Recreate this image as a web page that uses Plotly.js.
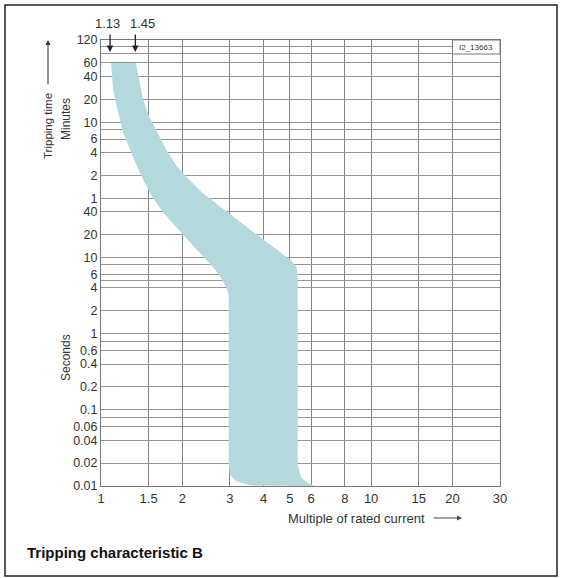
<!DOCTYPE html>
<html>
<head>
<meta charset="utf-8">
<script src="https://cdn.plot.ly/plotly-3.0.1.min.js"></script>
<style>
  html, body { margin: 0; padding: 0; background: #fff; }
  #chart { width: 563px; height: 578px; }
</style>
</head>
<body>
<div id="chart"></div>
<script>
// ---- data ----
const xTickVals = [1, 1.5, 2, 3, 4, 5, 6, 8, 10, 15, 20, 30];
const xTickText = ['1', '1.5', '2', '3', '4', '5', '6', '8', '10', '15', '20', '30'];

const minuteTicks = [120, 60, 40, 20, 10, 6, 4, 2, 1];          // minutes
const secondTicks = [40, 20, 10, 6, 4, 2, 1, 0.6, 0.4, 0.2, 0.1, 0.06, 0.04, 0.02, 0.01]; // seconds
const extraGridMinutes = [100, 80, 8];
const extraGridSeconds = [8, 5, 0.8, 0.08];

// lower (left) limit of the tripping band: multiple of In, time in seconds (top to bottom)
const lowerX = [1.09, 1.108, 1.127, 1.166, 1.206, 1.28, 1.359, 1.443, 1.545, 1.697, 1.928, 2.19, 2.427, 2.644, 2.81, 2.904, 2.97, 2.97, 3.0, 3.16, 3.56];
const lowerT = [3600, 1626, 1200, 716, 442, 264, 157, 100, 63.5, 39, 23.3, 14.4, 9.7, 6.95, 5.1, 4.15, 3.26, 0.019, 0.014, 0.0116, 0.0102];
// upper (right) limit of the tripping band (bottom to top)
const upperX = [6.2, 5.8, 5.5, 5.35, 5.35, 5.3, 5.1, 4.68, 4.12, 3.56, 3.08, 2.689, 2.366, 2.118, 1.91, 1.741, 1.612, 1.506, 1.43, 1.383, 1.348];
const upperT = [0.01, 0.011, 0.0131, 0.0189, 5.46, 7.38, 8.86, 11.3, 15.7, 23.3, 34.6, 49.8, 71.6, 106, 157, 264, 442, 716, 1200, 2198, 3600];

const limitLabels = ['1.13', '1.45'];
const limitArrowX = [1.08, 1.34];
const limitLabelX = [1.06, 1.42];

// ---- build ticks ----
const yTickVals = [], yTickText = [];
minuteTicks.forEach(m => { yTickVals.push(m * 60); yTickText.push(String(m)); });
secondTicks.forEach(s => { yTickVals.push(s); yTickText.push(String(s)); });
extraGridMinutes.forEach(m => { yTickVals.push(m * 60); yTickText.push(''); });
extraGridSeconds.forEach(s => { yTickVals.push(s); yTickText.push(''); });

// ---- layout helpers (pixel -> paper) ----
const L = 101, R = 500, T = 40, B = 486;
const px = p => (p - L) / (R - L);
const py = p => (B - p) / (B - T);

const band = {
  type: 'scatter',
  mode: 'lines',
  x: lowerX.concat(upperX),
  y: lowerT.concat(upperT),
  fill: 'toself',
  fillcolor: '#b4d9dd',
  line: { width: 0, color: '#b4d9dd' },
  hoverinfo: 'skip',
  showlegend: false
};

const fontBase = { family: 'Liberation Sans, Arial, sans-serif', color: '#333' };
const txt = (x, y, text, extra) => Object.assign({
  xref: 'paper', yref: 'paper', x: x, y: y, text: text, showarrow: false,
  xanchor: 'center', yanchor: 'middle', font: Object.assign({}, fontBase, { size: 13 })
}, extra || {});

const annotations = [];
limitLabels.forEach((lab, i) => {
  annotations.push(txt(px(101 + 270 * Math.log10(limitLabelX[i])), py(24), lab));
  annotations.push({
    xref: 'x', yref: 'paper', x: Math.log10(limitArrowX[i]), y: py(52),
    ax: 0, ay: -19, text: '', showarrow: true,
    arrowhead: 2, arrowsize: 1, arrowwidth: 1.3, arrowcolor: '#222'
  });
});
annotations.push(
  txt(px(48), py(126), 'Tripping time', { textangle: -90, font: Object.assign({}, fontBase, { size: 11.5 }) }),
  { xref: 'paper', yref: 'paper', x: px(48), y: py(40), ax: 0, ay: 46, text: '', showarrow: true,
    arrowhead: 2, arrowsize: 1, arrowwidth: 1, arrowcolor: '#333' },
  txt(px(66), py(119), 'Minutes', { textangle: -90, font: Object.assign({}, fontBase, { size: 12 }) }),
  txt(px(66), py(358), 'Seconds', { textangle: -90, font: Object.assign({}, fontBase, { size: 12 }) }),
  txt(px(427), py(518), 'Multiple of rated current', { xanchor: 'right' }),
  { xref: 'paper', yref: 'paper', x: px(462), y: py(518), ax: -30, ay: 0, text: '', showarrow: true,
    arrowhead: 2, arrowsize: 1, arrowwidth: 1, arrowcolor: '#444' },
  txt(px(25), py(552), '<b>Tripping characteristic B</b>',
    { xanchor: 'left', font: { family: 'Liberation Sans, Arial, sans-serif', size: 15, color: '#111' } }),
  txt(px(476), py(47), 'I2_13663', { font: Object.assign({}, fontBase, { size: 8 }) })
);

const shapes = [
  // outer frame
  { type: 'rect', xref: 'paper', yref: 'paper', x0: px(5), x1: px(557), y0: py(576), y1: py(5),
    line: { color: '#222', width: 1.5 }, fillcolor: 'rgba(0,0,0,0)', layer: 'above' },
  // graphic id box
  { type: 'rect', xref: 'paper', yref: 'paper', x0: Math.log10(20) / Math.log10(30), x1: 1,
    y0: py(54), y1: 1, line: { color: '#777', width: 1 }, fillcolor: '#fff', layer: 'above' }
];

const layout = {
  width: 563, height: 578,
  margin: { l: L, r: 563 - R, t: T, b: 578 - B, pad: 0 },
  paper_bgcolor: '#fff', plot_bgcolor: '#fff',
  showlegend: false,
  xaxis: {
    type: 'log', range: [0, Math.log10(30)],
    tickmode: 'array', tickvals: xTickVals, ticktext: xTickText,
    showgrid: true, gridcolor: '#858585', gridwidth: 1,
    showline: true, linecolor: '#777', linewidth: 1, mirror: true,
    ticks: '', zeroline: false,
    tickfont: Object.assign({}, fontBase, { size: 13 })
  },
  yaxis: {
    type: 'log', range: [-2, Math.log10(7200)],
    tickmode: 'array', tickvals: yTickVals, ticktext: yTickText,
    showgrid: true, gridcolor: '#959595', gridwidth: 1,
    showline: true, linecolor: '#777', linewidth: 1, mirror: true,
    ticks: '', zeroline: false,
    tickfont: Object.assign({}, fontBase, { size: 12.5 })
  },
  annotations: annotations,
  shapes: shapes
};

Plotly.newPlot('chart', [band], layout, { staticPlot: true, displayModeBar: false });
</script>
</body>
</html>
